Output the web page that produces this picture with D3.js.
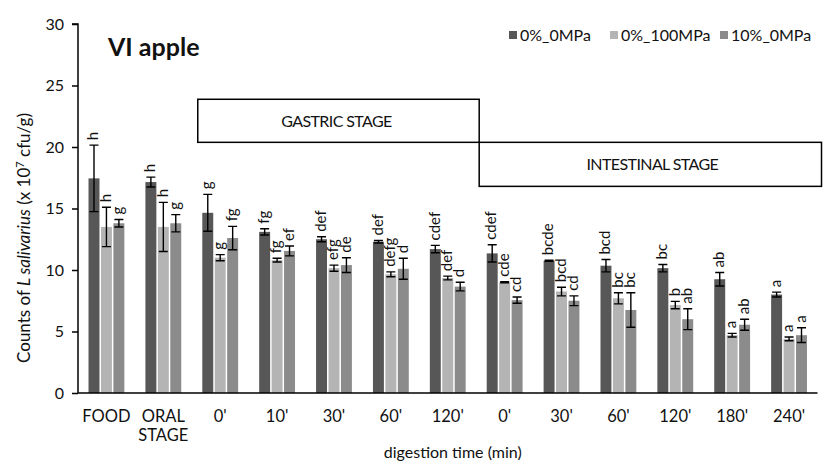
<!DOCTYPE html>
<html><head><meta charset="utf-8">
<script src="https://cdn.jsdelivr.net/npm/d3@7/dist/d3.min.js"></script>
<style>body{margin:0;background:#fff}svg{display:block}text{font-family:Lato,"Open Sans",sans-serif;fill:#111}</style>
</head><body><svg id="c" width="838" height="464"></svg>
<script>
const categories = ["FOOD","ORAL STAGE","0'","10'","30'","60'","120'","0'","30'","60'","120'","180'","240'"];
const seriesNames = ["0%_0MPa","0%_100MPa","10%_0MPa"];
const values0 = [17.45,17.15,14.65,13.1,12.5,12.3,11.7,11.35,10.75,10.35,10.15,9.25,8.0];
const values1 = [13.5,13.5,11.0,10.8,10.15,9.65,9.35,9.0,8.25,7.7,7.15,4.7,4.4];
const values2 = [13.8,13.8,12.6,11.55,10.4,10.1,8.65,7.55,7.5,6.75,6.0,5.55,4.7];
const err0 = [2.7,0.4,1.5,0.25,0.2,0.1,0.3,0.7,0.05,0.5,0.3,0.55,0.2];
const err1 = [1.6,2.0,0.25,0.15,0.25,0.2,0.15,0.05,0.35,0.45,0.3,0.15,0.15];
const err2 = [0.3,0.7,0.95,0.4,0.6,0.85,0.35,0.25,0.4,1.4,0.85,0.45,0.6];
const letters0 = ["h","h","g","fg","def","def","cdef","cdef","bcde","bcd","bc","ab","a"];
const letters1 = ["h","h","g","fg","efg","defg","def","cde","bcd","bc","b","a","a"];
const letters2 = ["g","g","fg","ef","de","d","d","cd","cd","bc","ab","ab","a"];
const yTicks = [0,5,10,15,20,25,30];
const stageLabels = ["GASTRIC STAGE","INTESTINAL STAGE"];
const colors = ["#575757","#b4b4b4","#8b8b8b"];

const svg = d3.select("#c");
const mLeft = 78, mRight = 817.5, mTop = 24, mBottom = 393;
const idx = d3.range(categories.length);
const x0 = d3.scaleBand().domain(idx).range([mLeft, mRight]).paddingInner(0.37).paddingOuter(0.185);
const x1 = d3.scaleBand().domain([0,1,2]).range([0, x0.bandwidth()]).paddingInner(0.12);
const y = d3.scaleLinear().domain([0,30]).range([mBottom, mTop]);

const vals = [values0, values1, values2], errs = [err0, err1, err2], lets = [letters0, letters1, letters2];
const rows = [];
idx.forEach(i => [0,1,2].forEach(s => rows.push({i, s, v: vals[s][i], e: errs[s][i], l: lets[s][i]})));

// stage boxes
const gx0 = x0(2) - x0.step()*x0.paddingInner()/2 + 6;
const gx1 = x0(7) - x0.step()*x0.paddingInner()/2 + 3;
const ix1 = mRight + 4;
const yb1 = y(23.88), yb2 = y(20.38), yb3 = y(16.8);
svg.append("rect").attr("x", gx0).attr("y", yb1).attr("width", gx1-gx0).attr("height", yb2-yb1)
  .attr("fill","none").attr("stroke","#000").attr("stroke-width",1.5);
svg.append("rect").attr("x", gx1).attr("y", yb2).attr("width", ix1-gx1).attr("height", yb3-yb2)
  .attr("fill","none").attr("stroke","#000").attr("stroke-width",1.5);
svg.append("text").attr("x",(gx0+gx1)/2 - 2).attr("y",(yb1+yb2)/2).attr("dy","0.36em").attr("text-anchor","middle")
  .style("font-size","16px").style("letter-spacing","-0.6px").text(stageLabels[0]);
svg.append("text").attr("x",(gx1+ix1)/2 + 2).attr("y",(yb2+yb3)/2).attr("dy","0.36em").attr("text-anchor","middle")
  .style("font-size","16px").style("letter-spacing","-0.6px").text(stageLabels[1]);

// bars
const g = svg.append("g");
g.selectAll("rect.bar").data(rows).join("rect").attr("class","bar")
  .attr("x", d => x0(d.i) + x1(d.s)).attr("width", x1.bandwidth())
  .attr("y", d => y(d.v)).attr("height", d => y(0) - y(d.v)).attr("fill", d => colors[d.s]);

// error bars
const cap = 4.5;
rows.forEach(d => {
  const cx = x0(d.i) + x1(d.s) + x1.bandwidth()/2;
  const yt = y(d.v + d.e), yb = y(d.v - d.e);
  g.append("path").attr("d", `M${cx},${yt}V${yb}M${cx-cap},${yt}H${cx+cap}M${cx-cap},${yb}H${cx+cap}`)
    .attr("stroke","#000").attr("stroke-width",1.4).attr("fill","none");
  g.append("text").attr("transform", `translate(${cx-1},${yt-5}) rotate(-90)`)
    .attr("dy","0.35em").attr("text-anchor","start").style("font-size","15px").text(d.l);
});

// axes
const yAxis = svg.append("g").attr("transform",`translate(${mLeft},0)`)
  .call(d3.axisLeft(y).tickValues(yTicks).tickSize(6).tickPadding(8));
yAxis.select(".domain").attr("stroke","#000").attr("stroke-width",1.5).attr("d",`M-6,${mTop}H0V${mBottom}`);
yAxis.selectAll(".tick line").attr("stroke","#000").attr("stroke-width",1.5);
yAxis.selectAll(".tick text").style("font-size","16px").style("font-family","Lato").attr("fill","#111");

const xAxis = svg.append("g").attr("transform",`translate(0,${mBottom})`)
  .call(d3.axisBottom(x0).tickSize(0).tickPadding(0).tickFormat(""));
xAxis.select(".domain").attr("stroke","#000").attr("stroke-width",1.5).attr("d",`M${mLeft},0H${mRight}`);
xAxis.selectAll(".tick").each(function(i){
  const t = d3.select(this).append("text").attr("text-anchor","middle").attr("fill","#111")
    .style("font-size","16.5px").style("font-family","Lato").attr("y", 29);
  const parts = categories[i].split(" ");
  parts.forEach((p,k) => t.append("tspan").attr("x",0).attr("dy", k ? 19 : 0).text(p));
});

svg.append("text").attr("x", (mLeft+mRight)/2 + 5).attr("y", 458).attr("text-anchor","middle")
  .style("font-size","16px").text("digestion time (min)");

// y label
const yl = svg.append("text").attr("transform",`translate(30,238) rotate(-90)`).attr("text-anchor","middle")
  .style("font-size","17px");
yl.append("tspan").text("Counts of ");
yl.append("tspan").style("font-style","italic").text("L salivarius");
yl.append("tspan").text(" (x 10");
yl.append("tspan").attr("dy",-6).style("font-size","11px").text("7");
yl.append("tspan").attr("dy",6).text(" cfu/g)");

// title
svg.append("text").attr("x",108).attr("y",56).style("font-size","25px").style("font-weight","bold").text("VI apple");

// legend
const lx = [509, 610, 720];
seriesNames.forEach((n,k) => {
  svg.append("rect").attr("x", lx[k]).attr("y", 31).attr("width",8).attr("height",8).attr("fill", colors[k]);
  svg.append("text").attr("x", lx[k]+11).attr("y", 35).attr("dy","0.36em").style("font-size","16px").text(n);
});
</script></body></html>
